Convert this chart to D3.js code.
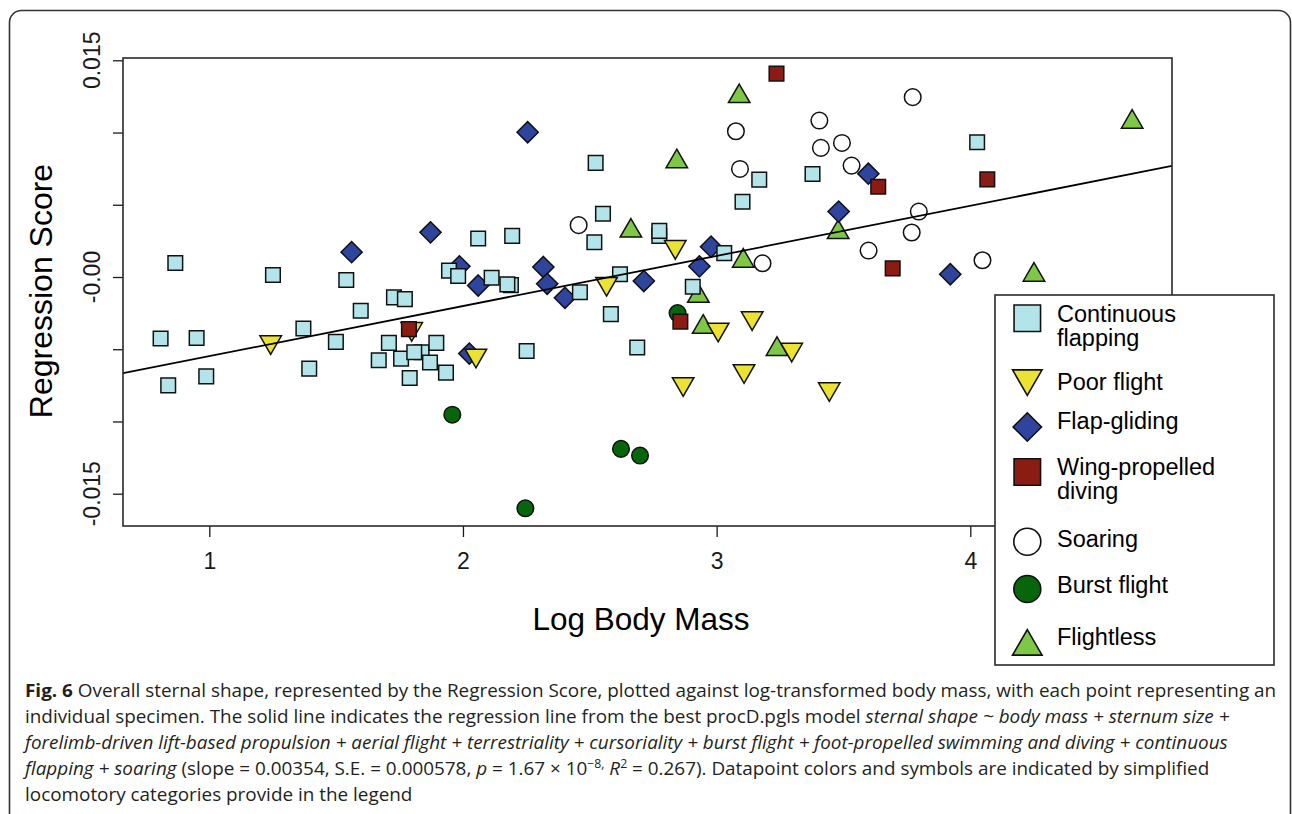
<!DOCTYPE html>
<html><head><meta charset="utf-8">
<script src="https://cdnjs.cloudflare.com/ajax/libs/d3/7.8.5/d3.min.js"></script>
<style>body{margin:0;background:#fff;} svg{display:block;}</style>
</head><body>
<svg id="chart" width="1292" height="814"></svg>
<script>
// ---------- data ----------
const xTicks = [1, 2, 3, 4];
const yTicks = [-0.015, -0.01, -0.005, 0, 0.005, 0.01, 0.015];
const yTickLabels = [["-0.015", -0.015], ["-0.00", 0], ["0.015", 0.015]];
const xLabel = "Log Body Mass";
const yLabel = "Regression Score";
const regIntercept = -0.00895;
const regSlope = 0.00347;

const continuousFlapping = [[0.808,-0.00426],[0.838,-0.0075],[0.866,0.00097],[0.950,-0.00422],[0.988,-0.00688],[1.251,0.00014],[1.371,-0.00356],[1.394,-0.00634],[1.499,-0.00449],[1.540,-0.00021],[1.597,-0.00234],[1.668,-0.00576],[1.708,-0.00456],[1.728,-0.00141],[1.771,-0.00153],[1.756,-0.00565],[1.790,-0.00699],[1.837,-0.00521],[1.808,-0.00521],[1.870,-0.00592],[1.895,-0.00456],[1.933,-0.00662],[1.945,0.00044],[1.981,0.00007],[2.060,0.00266],[2.113,-0.00005],[2.189,-0.00056],[2.175,-0.00051],[2.194,0.00285],[2.251,-0.00512],[2.461,-0.00106],[2.518,0.00241],[2.523,0.00790],[2.552,0.00438],[2.583,-0.00257],[2.619,0.00019],[2.687,-0.00488],[2.774,0.00285],[2.774,0.00319],[2.906,-0.00067],[3.030,0.00165],[3.102,0.00521],[3.168,0.00674],[3.378,0.00713],[4.027,0.00933]];
const poorFlight = [[1.242,-0.0045],[1.798,-0.00358],[2.051,-0.00543],[2.566,-0.00046],[2.837,0.00209],[2.868,-0.0074],[3.006,-0.00363],[3.108,-0.0065],[3.140,-0.00284],[3.296,-0.00502],[3.444,-0.00775]];
const flapGliding = [[1.561,0.00172],[1.872,0.00309],[1.986,0.00074],[2.025,-0.0053],[2.060,-0.00059],[2.255,0.01002],[2.317,0.00069],[2.332,-0.00047],[2.402,-0.00144],[2.713,-0.00028],[2.932,0.00074],[2.978,0.0021],[3.481,0.00453],[3.598,0.00715],[3.921,0.00019]];
const wingPropelled = [[1.787,-0.00361],[2.857,-0.00309],[3.236,0.01408],[3.637,0.00625],[3.694,0.0006],[4.067,0.00676]];
const soaring = [[2.456,0.00359],[3.076,0.01009],[3.092,0.00748],[3.181,0.00095],[3.405,0.01083],[3.411,0.00894],[3.494,0.00928],[3.532,0.00771],[3.599,0.00183],[3.769,0.00308],[3.773,0.01245],[3.797,0.00453],[4.048,0.00116]];
const burstFlight = [[1.958,-0.00953],[2.246,-0.01601],[2.623,-0.0119],[2.698,-0.01236],[2.846,-0.0025]];
const flightless = [[2.662,0.00319],[2.843,0.00799],[2.928,-0.00132],[2.947,-0.00347],[3.089,0.0125],[3.105,0.00111],[3.238,-0.005],[3.479,0.00309],[4.251,0.00014],[4.638,0.01073]];

const legendLabels = [["Continuous","flapping"],["Poor flight"],["Flap-gliding"],["Wing-propelled","diving"],["Soaring"],["Burst flight"],["Flightless"]];

const captionLines = [
  [["Fig. 6","b"],[" Overall sternal shape, represented by the Regression Score, plotted against log-transformed body mass, with each point representing an","n"]],
  [["individual specimen. The solid line indicates the regression line from the best procD.pgls model ","n"],["sternal shape ~ body mass + sternum size +","i"]],
  [["forelimb-driven lift-based propulsion + aerial flight + terrestriality + cursoriality + burst flight + foot-propelled swimming and diving + continuous","i"]],
  [["flapping + soaring","i"],[" (slope = 0.00354, S.E. = 0.000578, ","n"],["p","i"],[" = 1.67 × 10","n"],["−8,","sup"],[" ","n"],["R","i"],["2","sup"],[" = 0.267). Datapoint colors and symbols are indicated by simplified","n"]],
  [["locomotory categories provide in the legend","n"]]
];

// ---------- styles / layout ----------
const series = [
  {key:"flightless", data: flightless, shape:"triUp", fill:"#7ec846", size:21.5},
  {key:"flapGliding", data: flapGliding, shape:"diamond", fill:"#2f449c", size:10.6},
  {key:"continuous", data: continuousFlapping, shape:"square", fill:"#b2e4e9", size:14.6},
  {key:"burst", data: burstFlight, shape:"circle", fill:"#07660b", size:8.3},
  {key:"poor", data: poorFlight, shape:"triDown", fill:"#ebe234", size:21.5},
  {key:"wing", data: wingPropelled, shape:"square", fill:"#8b1c13", size:14.6},
  {key:"soaring", data: soaring, shape:"circle", fill:"#ffffff", size:8.3}
];
const legendOrder = [
  {shape:"square", fill:"#b2e4e9", size:26.5},
  {shape:"triDown", fill:"#ebe234", size:29.5},
  {shape:"diamond", fill:"#2f449c", size:14.2},
  {shape:"square", fill:"#8b1c13", size:26.5},
  {shape:"circle", fill:"#ffffff", size:13.5},
  {shape:"circle", fill:"#07660b", size:13.5},
  {shape:"triUp", fill:"#7ec846", size:29.5}
];
const legendSymY = [318.3, 378.4, 427, 472, 541.7, 589, 646.6];
const legendTextY = [322, 390, 429, 475, 547, 593, 645];

function shapePath(shape, s) {
  if (shape === "square") { const h = s/2; return `M${-h},${-h}H${h}V${h}H${-h}Z`; }
  if (shape === "diamond") { return `M0,${-s}L${s},0L0,${s}L${-s},0Z`; }
  if (shape === "circle") { return `M${s},0A${s},${s} 0 1,1 ${-s},0A${s},${s} 0 1,1 ${s},0Z`; }
  const R = s/Math.sqrt(3), a = s/2;
  if (shape === "triUp") return `M0,${-R}L${a},${R/2}L${-a},${R/2}Z`;
  if (shape === "triDown") return `M0,${R}L${a},${-R/2}L${-a},${-R/2}Z`;
}

const svg = d3.select("#chart");
const axisFont = "'Liberation Sans', Arial, Helvetica, sans-serif";
const ink = "#1a1a1a";

// outer rounded frame
svg.append("rect").attr("x",9.5).attr("y",10.5).attr("width",1281).attr("height",900)
  .attr("rx",12).attr("fill","none").attr("stroke","#333").attr("stroke-width",1.6);

const box = {l:123, r:1172, t:58, b:526};
const x = d3.scaleLinear().domain([1,4]).range([209.3, 970.3]);
const y = d3.scaleLinear().domain([-0.015, 0.015]).range([493.7, 60.3]);

// axes ticks
const xAxis = d3.axisBottom(x).tickValues(xTicks).tickFormat(d3.format("d")).tickSize(11).tickPadding(6);
const gx = svg.append("g").attr("transform",`translate(0,${box.b})`).call(xAxis);
gx.select(".domain").remove();
gx.selectAll("line").attr("stroke",ink).attr("stroke-width",1.3);
gx.selectAll("text").attr("font-family",axisFont).attr("font-size",23).attr("fill",ink)
  .attr("dy",null).attr("y",43);

const yAxis = d3.axisLeft(y).tickValues(yTicks).tickFormat("").tickSize(10);
const gy = svg.append("g").attr("transform",`translate(${box.l},0)`).call(yAxis);
gy.select(".domain").remove();
gy.selectAll("line").attr("stroke",ink).attr("stroke-width",1.3);
svg.append("g").selectAll("text").data(yTickLabels).join("text")
  .attr("transform", d => `translate(100,${y(d[1])}) rotate(-90)`)
  .attr("text-anchor","middle").attr("font-family",axisFont).attr("font-size",23).attr("fill",ink)
  .text(d => d[0]);

// axis titles
svg.append("text").attr("x",641).attr("y",630).attr("text-anchor","middle")
  .attr("font-family",axisFont).attr("font-size",31.5).attr("fill","#000").text(xLabel);
svg.append("text").attr("transform","translate(52,291) rotate(-90)").attr("text-anchor","middle")
  .attr("font-family",axisFont).attr("font-size",32).attr("fill","#000").text(yLabel);

// points
const clipId = "plotclip";
svg.append("clipPath").attr("id",clipId).append("rect")
  .attr("x",box.l).attr("y",box.t).attr("width",box.r-box.l).attr("height",box.b-box.t);
const pts = svg.append("g");
series.forEach(sr => {
  pts.append("g").selectAll("path").data(sr.data).join("path")
    .attr("transform", d => `translate(${x(d[0])},${y(d[1])})`)
    .attr("d", shapePath(sr.shape, sr.size))
    .attr("fill", sr.fill).attr("stroke","#111").attr("stroke-width",1.5);
});

// regression line
const x0 = x.invert(box.l), x1 = x.invert(box.r);
svg.append("line").attr("clip-path",`url(#${clipId})`)
  .attr("x1",x(x0)).attr("y1",y(regIntercept + regSlope*x0))
  .attr("x2",x(x1)).attr("y2",y(regIntercept + regSlope*x1))
  .attr("stroke","#000").attr("stroke-width",1.8);

// plot box
svg.append("rect").attr("x",box.l).attr("y",box.t).attr("width",box.r-box.l).attr("height",box.b-box.t)
  .attr("fill","none").attr("stroke","#2a2a2a").attr("stroke-width",1.6);

// legend
const leg = svg.append("g");
leg.append("rect").attr("x",995).attr("y",295).attr("width",279).attr("height",370)
  .attr("fill","#fff").attr("stroke","#2a2a2a").attr("stroke-width",1.6);
legendOrder.forEach((d,i) => {
  leg.append("path").attr("transform",`translate(1027.3,${legendSymY[i]})`)
    .attr("d", shapePath(d.shape, d.size)).attr("fill", d.fill).attr("stroke","#111").attr("stroke-width",1.6);
  const t = leg.append("text").attr("x",1057).attr("y",legendTextY[i])
    .attr("font-family",axisFont).attr("font-size",23.5).attr("fill","#000");
  legendLabels[i].forEach((ln,j) => {
    t.append("tspan").attr("x",1057).attr("dy", j===0 ? 0 : 23.5).text(ln);
  });
});

// caption
const capFont = "'Open Sans', 'Noto Sans', sans-serif";
const capBase = [697, 723, 749, 775, 801];
const capGroups = [];
captionLines.forEach((segs,i) => {
  const g = svg.append("g").attr("transform",`translate(25,${capBase[i]})`);
  const t = g.append("text").attr("x",0).attr("y",0).attr("font-family",capFont)
    .attr("font-size",18.5).attr("fill","#231f20");
  let shift = 0;
  segs.forEach(([txt, st]) => {
    const sp = t.append("tspan").text(txt);
    if (st === "b") sp.attr("font-weight","bold");
    if (st === "i") sp.attr("font-style","italic");
    let target = (st === "sup") ? -7 : 0;
    if (st === "sup") sp.attr("font-size",12);
    if (target !== shift) { sp.attr("dy", target - shift); shift = target; }
  });
  capGroups.push({g, t});
});
const w0 = capGroups[0].t.node().getComputedTextLength();
const sc = 1252 / w0;
capGroups.forEach(({g}, i) => g.attr("transform",`translate(25,${capBase[i]}) scale(${sc},1)`));
</script>
</body></html>
